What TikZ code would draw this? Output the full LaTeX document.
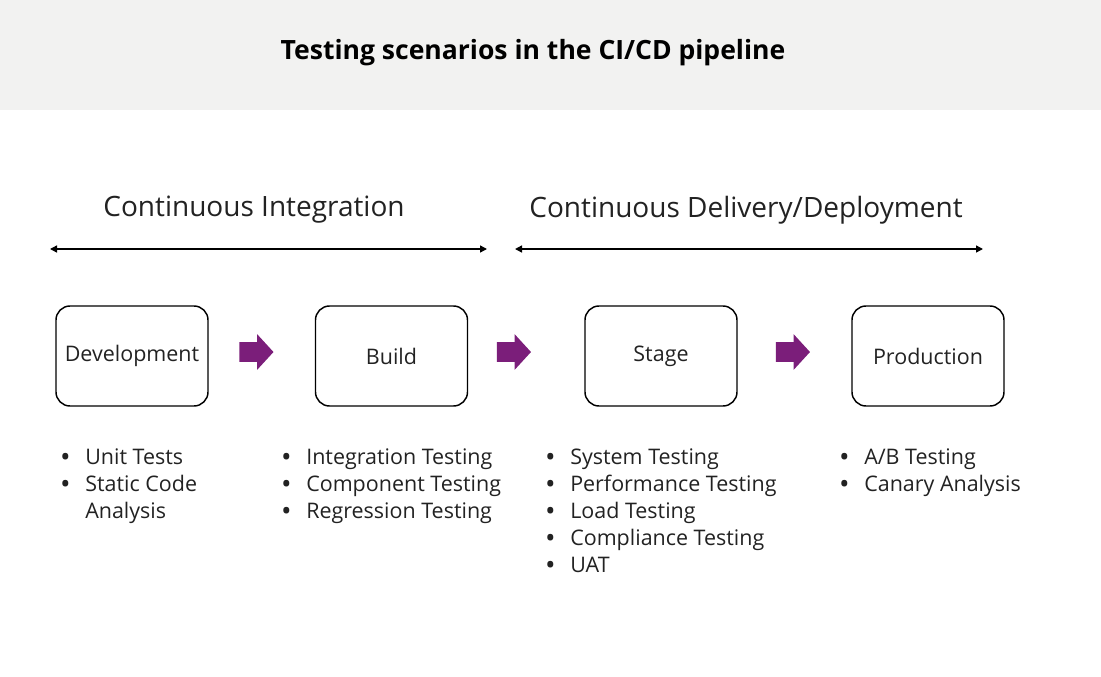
\documentclass[tikz,border=0pt]{standalone}
\usepackage{fontspec}
\setmainfont{Open Sans}
\usetikzlibrary{arrows.meta, positioning, shapes.arrows}

\definecolor{headgray}{HTML}{F2F2F1}
\definecolor{stepurple}{HTML}{7B1E7A}
\definecolor{inktext}{HTML}{222222}

\tikzset{
  stagebox/.style={draw=black, line width=1.1pt, rounded corners=10.5pt,
    minimum width=114pt, minimum height=75pt, font=\fontsize{16.1}{19}\selectfont, text=inktext},
  nextarrow/.style={single arrow, fill=stepurple, draw=none, inner sep=0pt,
    minimum height=25.5pt, single arrow head extend=6pt, single arrow tip angle=95},
  phaseline/.style={line width=1.1pt, {Triangle[length=5.25pt,width=5.25pt]}-{Triangle[length=5.25pt,width=5.25pt]}},
  phaselabel/.style={font=\fontsize{21}{24}\selectfont, text=inktext},
  testlist/.style={anchor=north west, inner sep=0pt, align=left,
    font=\fontsize{16.1}{20.25}\selectfont, text=inktext}
}
\newcommand{\bitem}[1]{\makebox[18pt][l]{\textbf{\textbullet}}#1}
\newcommand{\bcont}[1]{\makebox[18pt][l]{}#1}

\begin{document}
\begin{tikzpicture}[x=0.75pt, y=-0.75pt]
\useasboundingbox (0,0) rectangle (1101,676);
\fill[headgray] (0,0) rectangle (1101,110);
\node[font=\bfseries\fontsize{19.9}{23}\selectfont] (title) at (533,53) {Testing scenarios in the CI/CD pipeline};

% phases
\node[phaselabel] (cilabel) at (254,210) {Continuous Integration};
\node[phaselabel] (cdlabel) at (746,210) {Continuous Delivery/Deployment};
\coordinate (cil) at (50,249);
\coordinate (cir) at (487,249);
\coordinate (cdl) at (515,249);
\coordinate (cdr) at (983,249);
\draw[phaseline] (cil) -- (cir);
\draw[phaseline] (cdl) -- (cdr);

% stages
\node[stagebox] (dev) at (132,356) {Development};
\node[stagebox] (build) at (391.5,356) {Build};
\node[stagebox] (stage) at (661,356) {Stage};
\node[stagebox] (prod) at (928,356) {Production};

\node[nextarrow] (a1) at (252,352) {\rule{0pt}{14.25pt}};
\node[nextarrow] (a2) at (509.5,352) {\rule{0pt}{14.25pt}};
\node[nextarrow] (a3) at (788.5,352) {\rule{0pt}{14.25pt}};

% tests per stage
\node[testlist] (devtests) at (61,448) {\bitem{Unit Tests}\\ \bitem{Static Code}\\ \bcont{Analysis}};
\node[testlist] (buildtests) at (282,448) {\bitem{Integration Testing}\\ \bitem{Component Testing}\\ \bitem{Regression Testing}};
\node[testlist] (stagetests) at (546,448) {\bitem{System Testing}\\ \bitem{Performance Testing}\\ \bitem{Load Testing}\\ \bitem{Compliance Testing}\\ \bitem{UAT}};
\node[testlist] (prodtests) at (840,448) {\bitem{A/B Testing}\\ \bitem{Canary Analysis}};
\end{tikzpicture}
\end{document}
